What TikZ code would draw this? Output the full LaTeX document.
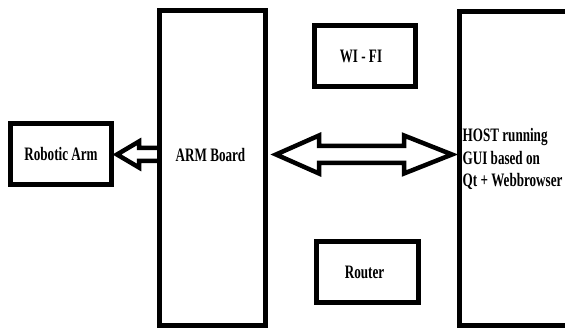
\documentclass[tikz,border=0pt]{standalone}
\usepackage{fontspec}
\usetikzlibrary{calc}
\newfontfamily\boxfont[FakeStretch=0.69]{Liberation Serif}
\tikzset{
  box/.style={draw, line width=5pt, outer sep=0pt, inner sep=0pt},
  boxtext/.style={font=\boxfont\bfseries\fontsize{19}{22.5}\selectfont, inner sep=0pt},
  hollow/.style={line width=4.5pt, miter limit=20}
}
\begin{document}
\begin{tikzpicture}[x=1pt, y=1pt]
\useasboundingbox (0, 0) rectangle (565, 327);
\node[box, minimum width=106, minimum height=314] (arm) at (212.5, 159) {};
\node[box, minimum width=115.5, minimum height=313] (host) at (517.25, 158.5) {};
\node[box, minimum width=101, minimum height=60.5] (wifi) at (365, 271) {};
\node[box, minimum width=102, minimum height=61] (router) at (367.5, 55) {};
\node[box, minimum width=101, minimum height=61] (robot) at (61, 172.5) {};
%Arrows
\coordinate (armtip) at ($(robot.east)+(5.5, 0)$);
\draw[hollow] ($(arm.west |- armtip)+(0, 6.5)$) -- ++(-20.5, 0) -- ++(0, 6.5) -- (armtip) -- ++(22, -13) -- ++(0, 6.5) -- ($(arm.west |- armtip)+(0, -6.5)$);
\coordinate (linkl) at ($(arm.east |- armtip)+(10.5, 0)$);
\coordinate (linkr) at ($(host.west |- armtip)+(-7.5, 0)$);
\draw[hollow] (linkl) -- ++(43, 19) -- ++(0, -10.5) -- ($(linkr)+(-48, 8.5)$) -- ++(0, 10.5) -- (linkr) -- ++(-48, -19) -- ++(0, 10.5) -- ($(linkl)+(43, -8.5)$) -- ++(0, -10.5) -- cycle;
%Text
\node[boxtext] (armlabel) at (210.5, 172) {ARM Board};
\node[boxtext] (robotlabel) at (robot) {Robotic Arm};
\node[boxtext] (wifilabel) at ($(wifi)+(-4, 0)$) {WI - FI};
\node[boxtext] (routerlabel) at ($(router)+(-3, 0)$) {Router};
\node[boxtext, anchor=west, align=left] (hostlabel) at (462.5, 168) {HOST running\\GUI based on\\Qt + Webbrowser};
\end{tikzpicture}
\end{document}
